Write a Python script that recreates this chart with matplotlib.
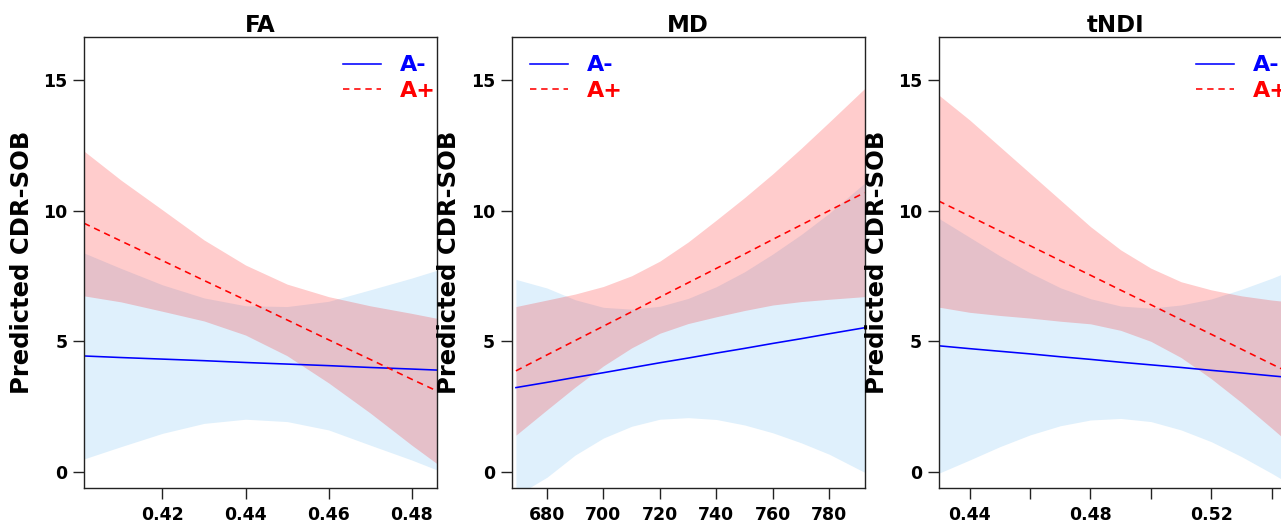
import matplotlib
matplotlib.use("Agg")
import matplotlib.pyplot as plt

plt.rcParams['font.family'] = ['DejaVu Sans']
plt.rcParams['font.weight'] = 'bold'

titles = ['FA', 'MD', 'tNDI']
ylabel = 'Predicted CDR-SOB'
groups = ['A-', 'A+']

# FA panel
fa_x = [0.4011, 0.41, 0.42, 0.43, 0.44, 0.45, 0.46, 0.47, 0.48, 0.4861]
fa_neg_fit = [4.44, 4.38, 4.32, 4.26, 4.19, 4.13, 4.07, 4.00, 3.94, 3.90]
fa_neg_lo = [0.50, 0.97, 1.48, 1.86, 2.02, 1.93, 1.61, 1.03, 0.46, 0.08]
fa_neg_hi = [8.38, 7.79, 7.16, 6.66, 6.36, 6.33, 6.53, 6.97, 7.42, 7.72]
fa_pos_fit = [9.52, 8.84, 8.09, 7.33, 6.58, 5.82, 5.06, 4.31, 3.55, 3.10]
fa_pos_lo = [6.74, 6.51, 6.15, 5.78, 5.24, 4.45, 3.41, 2.26, 1.03, 0.32]
fa_pos_hi = [12.28, 11.17, 10.03, 8.88, 7.92, 7.19, 6.71, 6.36, 6.07, 5.88]

# MD panel
md_x = [669, 680, 690, 700, 710, 720, 730, 740, 750, 760, 770, 780, 792.5]
md_neg_fit = [3.23, 3.43, 3.62, 3.80, 3.99, 4.18, 4.36, 4.55, 4.73, 4.92, 5.10, 5.29, 5.52]
md_neg_lo = [-0.91, -0.20, 0.65, 1.30, 1.75, 2.02, 2.08, 2.01, 1.80, 1.50, 1.12, 0.68, -0.01]
md_neg_hi = [7.37, 7.04, 6.59, 6.30, 6.23, 6.34, 6.64, 7.09, 7.66, 8.34, 9.08, 9.90, 11.05]
md_pos_fit = [3.87, 4.48, 5.03, 5.58, 6.13, 6.69, 7.24, 7.79, 8.34, 8.90, 9.45, 10.00, 10.69]
md_pos_lo = [1.41, 2.38, 3.25, 4.06, 4.75, 5.31, 5.68, 5.94, 6.18, 6.39, 6.52, 6.61, 6.71]
md_pos_hi = [6.33, 6.58, 6.81, 7.10, 7.51, 8.07, 8.80, 9.64, 10.50, 11.41, 12.38, 13.39, 14.67]

# tNDI panel
tn_x = [0.4297, 0.44, 0.45, 0.46, 0.47, 0.48, 0.49, 0.50, 0.51, 0.52, 0.53, 0.54, 0.5466]
tn_neg_fit = [4.83, 4.72, 4.62, 4.52, 4.41, 4.31, 4.20, 4.10, 4.00, 3.89, 3.79, 3.68, 3.61]
tn_neg_lo = [-0.05, 0.46, 0.97, 1.42, 1.77, 1.99, 2.05, 1.93, 1.61, 1.16, 0.59, -0.05, -0.50]
tn_neg_hi = [9.71, 8.98, 8.27, 7.62, 7.05, 6.63, 6.35, 6.27, 6.39, 6.62, 6.99, 7.41, 7.72]
tn_pos_fit = [10.37, 9.79, 9.22, 8.66, 8.09, 7.53, 6.96, 6.40, 5.83, 5.27, 4.70, 4.13, 3.76]
tn_pos_lo = [6.31, 6.11, 5.99, 5.89, 5.77, 5.67, 5.42, 5.00, 4.38, 3.57, 2.66, 1.68, 1.02]
tn_pos_hi = [14.43, 13.47, 12.45, 11.43, 10.41, 9.39, 8.50, 7.80, 7.28, 6.97, 6.74, 6.58, 6.50]

fa_ticks = [0.42, 0.44, 0.46, 0.48]
fa_ticklabels = ['0.42', '0.44', '0.46', '0.48']
md_ticks = [680, 700, 720, 740, 760, 780]
md_ticklabels = ['680', '700', '720', '740', '760', '780']
tn_ticks = [0.44, 0.46, 0.48, 0.50, 0.52, 0.54]
tn_ticklabels = ['0.44', '', '0.48', '', '0.52', '']
y_ticks = [0, 5, 10, 15]

panels = [
    (fa_x, fa_neg_fit, fa_neg_lo, fa_neg_hi, fa_pos_fit, fa_pos_lo, fa_pos_hi,
     (0.4011, 0.4861), fa_ticks, fa_ticklabels, 0.734),
    (md_x, md_neg_fit, md_neg_lo, md_neg_hi, md_pos_fit, md_pos_lo, md_pos_hi,
     (667.47, 792.53), md_ticks, md_ticklabels, 0.052),
    (tn_x, tn_neg_fit, tn_neg_lo, tn_neg_hi, tn_pos_fit, tn_pos_lo, tn_pos_hi,
     (0.42974, 0.54663), tn_ticks, tn_ticklabels, 0.729),
]

W, H = 1281, 522
fig = plt.figure(figsize=(W / 100, H / 100), dpi=100)
lefts = [84, 511.6, 938.7]

for i, p in enumerate(panels):
    x, nfit, nlo, nhi, pfit, plo, phi, xlim, ticks, ticklabels, legx = p
    ax = fig.add_axes([lefts[i] / W, (H - 488) / H, 353 / W, 451 / H])

    ax.fill_between(x, nlo, nhi, color='#DFF0FC', lw=0)
    ax.plot(x, nfit, color='#0000FF', lw=1.15, label=groups[0])
    ax.fill_between(x, plo, phi, color='#FF0000', alpha=0.2, lw=0)
    ax.plot(x, pfit, color='#FF0000', lw=1.15, ls=(0, (4, 3)), label=groups[1])

    ax.set_xlim(*xlim)
    ax.set_ylim(-0.612, 16.645)
    ax.set_xticks(ticks)
    ax.set_xticklabels(ticklabels)
    ax.set_yticks(y_ticks)
    ax.tick_params(axis='both', length=8, width=1, labelsize=12.5, color='#222222')
    ax.tick_params(axis='y', pad=4)
    ax.tick_params(axis='x', pad=5)
    for s in ax.spines.values():
        s.set_linewidth(1.0)
        s.set_color('#222222')

    ax.set_title(titles[i], fontsize=16.5, fontweight='bold', pad=2.7)
    ax.text(-0.176, 0.5, ylabel, transform=ax.transAxes, rotation=90,
            ha='center', va='center', fontsize=17.5, fontweight='bold')

    ax.legend(loc='upper left', bbox_to_anchor=(legx, 0.959), frameon=False,
              prop={'weight': 'bold', 'size': 16}, labelcolor='linecolor',
              handlelength=1.71, handletextpad=0.85, borderpad=0,
              borderaxespad=0, labelspacing=0.24)

plt.savefig('out.png', dpi=100)
